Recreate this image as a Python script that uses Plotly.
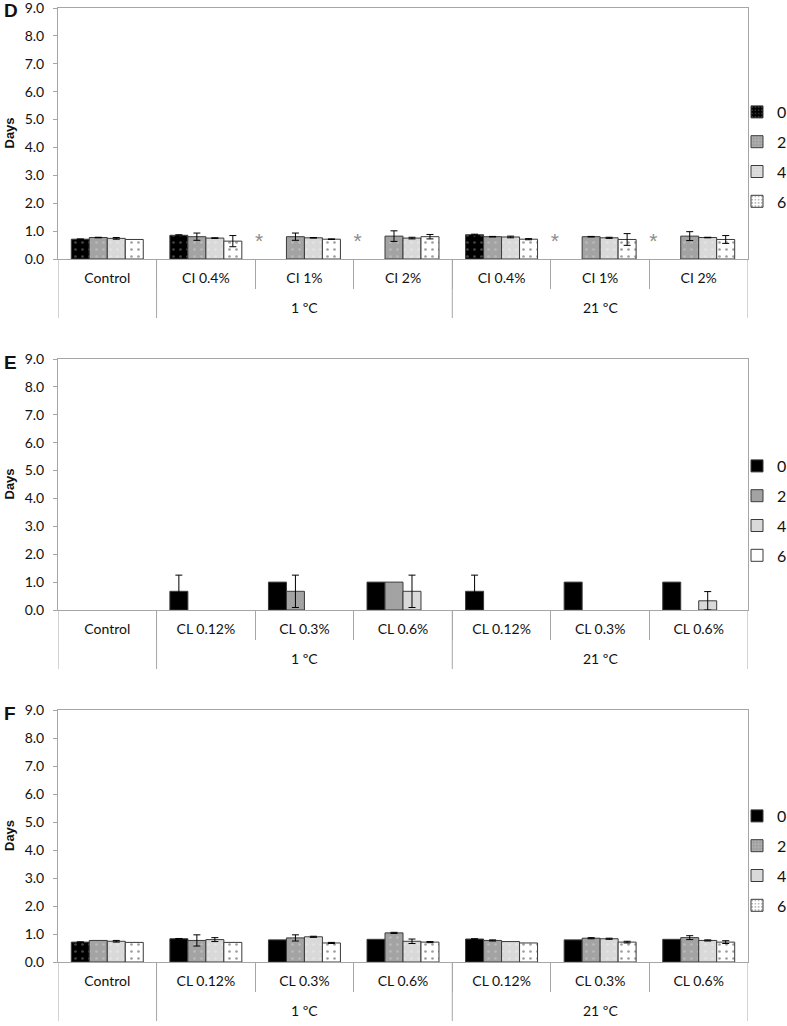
import numpy as np
import plotly.graph_objects as go

W, H = 787, 1026

# ---------------- data ----------------
series_names = ["0", "2", "4", "6"]
group_labels = ["1 ºC", "21 ºC"]
cats_D = ["Control", "CI 0.4%", "CI 1%", "CI 2%", "CI 0.4%", "CI 1%", "CI 2%"]
cats_EF = ["Control", "CL 0.12%", "CL 0.3%", "CL 0.6%", "CL 0.12%", "CL 0.3%", "CL 0.6%"]

# Panel D (mean days, error)
D_0 = [0.71, 0.85, None, None, 0.87, None, None]
D_2 = [0.77, 0.80, 0.80, 0.82, 0.80, 0.80, 0.82]
D_4 = [0.74, 0.75, 0.76, 0.75, 0.79, 0.76, 0.77]
D_6 = [0.70, 0.64, 0.71, 0.80, 0.71, 0.70, 0.70]
D_0e = [0.01, 0.02, None, None, 0.02, None, None]
D_2e = [0.01, 0.13, 0.13, 0.19, 0.01, 0.01, 0.16]
D_4e = [0.03, 0.01, 0.01, 0.03, 0.03, 0.02, 0.01]
D_6e = [None, 0.20, 0.01, 0.08, 0.02, 0.21, 0.14]
D_missing = [2, 3, 5, 6]      # categories marked with *
D_missing_y = 0.6

# Panel E
E_0 = [0, 0.67, 1.0, 1.0, 0.67, 1.0, 1.0]
E_2 = [0, 0, 0.67, 1.0, 0, 0, 0]
E_4 = [0, 0, 0, 0.67, 0, 0, 0.33]
E_6 = [0, 0, 0, 0, 0, 0, 0]
E_0e = [None, 0.58, None, None, 0.58, None, None]
E_2e = [None, None, 0.58, None, None, None, None]
E_4e = [None, None, None, 0.58, None, None, 0.33]
E_6e = [None] * 7

# Panel F
F_0 = [0.71, 0.83, 0.79, 0.81, 0.82, 0.79, 0.81]
F_2 = [0.77, 0.77, 0.86, 1.04, 0.77, 0.85, 0.87]
F_4 = [0.74, 0.80, 0.90, 0.74, 0.73, 0.83, 0.77]
F_6 = [0.70, 0.70, 0.68, 0.71, 0.68, 0.71, 0.71]
F_0e = [0.01, 0.01, None, None, 0.01, None, None]
F_2e = [None, 0.20, 0.11, 0.02, 0.02, 0.02, 0.07]
F_4e = [0.03, 0.07, 0.02, 0.08, None, 0.02, 0.02]
F_6e = [None, None, 0.02, 0.02, None, 0.03, 0.05]

y_ticks = [0, 1, 2, 3, 4, 5, 6, 7, 8, 9]

# ---------------- styling ----------------
axis_col = "#a6a6a6"
bar_colors = ["#000000", "#a3a3a3", "#d9d9d9", "#ffffff"]
dot_colors = ["#8c8c8c", "#cfcfcf", "#efefef", "#404040"]
bar_line = "#3a3a3a"
label_font = dict(family="Lato", size=14, color="#111111")

x_dom = [58 / W, 748 / W]
panels = [
    dict(letter="D", cats=cats_D, vals=[D_0, D_2, D_4, D_6], errs=[D_0e, D_2e, D_4e, D_6e],
         top=8, bottom=259, legend_y=157,
         patterns=[["."] * 7, ["."] * 7, ["."] * 7, ["."] * 7],
         legend_patterns=[".", ".", ".", "."]),
    dict(letter="E", cats=cats_EF, vals=[E_0, E_2, E_4, E_6], errs=[E_0e, E_2e, E_4e, E_6e],
         top=359, bottom=610, legend_y=511,
         patterns=[[""] * 7, [""] * 7, [""] * 7, [""] * 7],
         legend_patterns=["", "", "", ""]),
    dict(letter="F", cats=cats_EF, vals=[F_0, F_2, F_4, F_6], errs=[F_0e, F_2e, F_4e, F_6e],
         top=710, bottom=962, legend_y=861,
         patterns=[["."] + [""] * 6, ["."] * 7, ["."] * 7, ["."] * 7],
         legend_patterns=["", ".", "", "."]),
]


def err_array(errs):
    # NaN (kept in the binary array) = no error bar drawn for that bar
    return np.array([np.nan if e is None else e for e in errs], dtype=float)


fig = go.Figure()
layout = dict(
    width=W, height=H,
    margin=dict(l=0, r=0, t=0, b=0, autoexpand=False),
    paper_bgcolor="white", plot_bgcolor="white",
    barmode="group", bargap=0.27, bargroupgap=0,
    showlegend=True,
)
annotations = []
shapes = []

for pi, p in enumerate(panels):
    sfx = "" if pi == 0 else str(pi + 1)
    xa, ya = "x" + sfx, "y" + sfx
    leg = "legend" + sfx
    xs = list(range(len(p["cats"])))
    for si, name in enumerate(series_names):
        vals = p["vals"][si]
        fig.add_trace(go.Bar(
            x=xs, y=vals, name=name, offsetgroup=name,
            xaxis=xa, yaxis=ya, showlegend=False,
            marker=dict(color=bar_colors[si],
                        line=dict(color=bar_line, width=[1 if v else 0 for v in vals]),
                        pattern=dict(shape=p["patterns"][si], fillmode="overlay",
                                     fgcolor=dot_colors[si], size=7, solidity=0.12)),
            error_y=dict(type="data", array=err_array(p["errs"][si]), visible=True,
                         color="#000000", thickness=1, width=3.5),
            hoverinfo="skip",
        ))
    # legend entries
    for si, name in enumerate(series_names):
        fig.add_trace(go.Bar(
            x=[None], y=[None], name=name, offsetgroup=name,
            xaxis=xa, yaxis=ya, legend=leg, legendgroup=p["letter"] + name,
            marker=dict(color=bar_colors[si], line=dict(color=bar_line, width=1),
                        pattern=dict(shape=p["legend_patterns"][si], fillmode="overlay",
                                     fgcolor=dot_colors[si], size=4, solidity=0.2)),
            hoverinfo="skip",
        ))
    dom_y = [1 - p["bottom"] / H, 1 - p["top"] / H]
    plot_h = p["bottom"] - p["top"]
    layout["xaxis" + sfx] = dict(
        domain=x_dom, anchor=ya, range=[-0.5, len(xs) - 0.5], automargin=False,
        tickmode="array", tickvals=xs, ticktext=p["cats"], ticks="",
        showline=True, linecolor=axis_col, linewidth=1, mirror=True,
        showgrid=False, zeroline=False, tickfont=label_font, ticklabelstandoff=6,
        ticklabeloverflow="allow",
        minor=dict(tickmode="array", tickvals=[i + 0.5 for i in xs[:-1]],
                   ticks="outside", ticklen=29, tickcolor=axis_col, tickwidth=1,
                   showgrid=False),
        fixedrange=True,
    )
    layout["yaxis" + sfx] = dict(
        domain=dom_y, anchor=xa, range=[0, 9], automargin=False,
        tickmode="array", tickvals=y_ticks, tickformat=".1f",
        ticks="outside", ticklen=4, tickcolor=axis_col, tickwidth=1,
        showline=True, linecolor=axis_col, linewidth=1, mirror=True,
        showgrid=False, zeroline=False, tickfont=label_font, ticklabelstandoff=6,
        ticklabeloverflow="allow",
        fixedrange=True,
    )
    layout[leg] = dict(
        x=737 / W, xanchor="left", y=1 - p["legend_y"] / H, yanchor="middle",
        font=dict(family="Lato", size=16, color="#111"),
        bgcolor="rgba(0,0,0,0)", traceorder="grouped", tracegroupgap=6,
        itemwidth=30,
    )
    # y-axis title
    annotations.append(dict(text="<b>Days</b>", xref="paper", yref=ya + " domain",
                            x=9 / W, y=0.5, xanchor="center", yanchor="middle",
                            textangle=-90, showarrow=False,
                            font=dict(family="Liberation Sans", size=13, color="#111")))
    # group dividers and labels
    div_len = 59 / plot_h
    for xv in [-0.5, 0.5, 3.5, 6.5]:
        shapes.append(dict(type="line", xref=xa, yref=ya + " domain", x0=xv, x1=xv,
                           y0=0, y1=-div_len, line=dict(color=axis_col, width=1)))
    for gi, g in enumerate(group_labels):
        annotations.append(dict(text=g, xref=xa, yref=ya + " domain", x=2 + 3 * gi,
                                y=-48 / plot_h, showarrow=False, yanchor="middle",
                                font=label_font))
    annotations.append(dict(text="<b>" + p["letter"] + "</b>", xref="paper", yref="paper",
                            x=2 / W, xanchor="left", y=1 - (p["top"] + 3) / H, yanchor="middle",
                            showarrow=False,
                            font=dict(family="Liberation Sans", size=19, color="#111")))
    if p["letter"] == "D":
        fig.add_trace(go.Scatter(
            x=[c - 0.46 for c in D_missing], y=[D_missing_y] * len(D_missing),
            mode="text", text=["*"] * len(D_missing), xaxis=xa, yaxis=ya,
            textfont=dict(family="Liberation Sans", size=21, color="#8c8c8c"),
            showlegend=False, hoverinfo="skip",
        ))

layout["annotations"] = annotations
layout["shapes"] = shapes
fig.update_layout(**layout)
fig.write_html(
    "out.html",
    config={"displayModeBar": False, "staticPlot": True},
    post_script="document.body.style.margin='0';document.documentElement.style.overflow='hidden';",
)
